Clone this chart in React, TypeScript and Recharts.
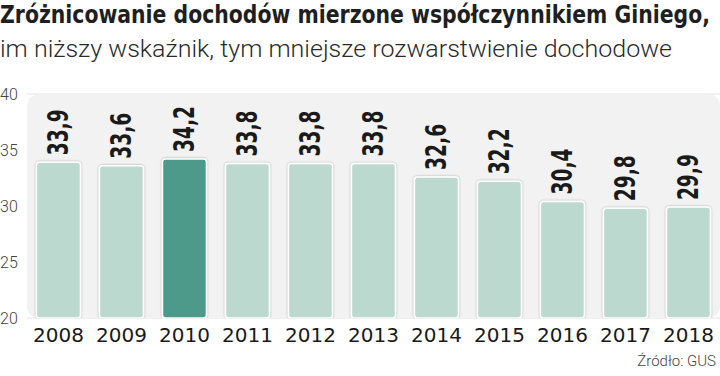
import React from 'react'
import { BarChart, Bar, XAxis, YAxis, CartesianGrid, Rectangle, ReferenceArea } from 'recharts'

const years = ['2008', '2009', '2010', '2011', '2012', '2013', '2014', '2015', '2016', '2017', '2018']
const gini = [33.9, 33.6, 34.2, 33.8, 33.8, 33.8, 32.6, 32.2, 30.4, 29.8, 29.9]
const highlightYear = '2010'
const yTicks = [20, 25, 30, 35, 40]

const title = 'Zróżnicowanie dochodów mierzone współczynnikiem Giniego,'
const subtitle = 'im niższy wskaźnik, tym mniejsze rozwarstwienie dochodowe'
const source = 'Źródło: GUS'

const data = years.map((year, i) => ({ year, value: gini[i] }))

const LIGHT = '#bcd9d0'
const DARK = '#4e9a8b'
const CONDENSED = "'DejaVu Sans Condensed', 'DejaVu Sans', sans-serif"

// bar + rotated value label above it
const BarWithLabel = (props: any) => {
  const { x, y, width, height, payload } = props
  const cx = x + width / 2
  const ty = y - 7
  const fill = payload.year === highlightYear ? DARK : LIGHT
  return (
    <g>
      <Rectangle
        x={x}
        y={y}
        width={width}
        height={height}
        radius={3}
        fill={fill}
        stroke="#ffffff"
        strokeWidth={1.5}
        style={{ filter: 'url(#barShadow)' }}
      />
      <g transform={`translate(${cx}, ${ty}) rotate(-90) scale(0.74, 1)`}>
        <text
          x={0}
          y={0}
          textAnchor="start"
          dominantBaseline="central"
          fontFamily={CONDENSED}
          fontWeight="bold"
          fontSize={28}
          fill="#1a1a1a"
        >
          {String(payload.value).replace('.', ',')}
        </text>
      </g>
    </g>
  )
}

const YTick = (props: any) => {
  const { y, payload } = props
  return (
    <text x={0} y={y} dominantBaseline="central" fontFamily="Roboto" fontWeight={300} fontSize={16} fill="#444">
      {payload.value}
    </text>
  )
}

const PlotBg = (props: any) => {
  const { x, y, width, height } = props
  return <rect x={x} y={y} width={width} height={height} rx={12} ry={12} fill="#f2f2f2" />
}

const App = () => {
  return (
    <div style={{ position: 'absolute', left: 0, top: 0, width: 720, height: 376, background: '#fff' }}>
      <svg width={720} height={70} style={{ position: 'absolute', left: 0, top: 0 }}>
        <text
          x={0}
          y={23}
          fontFamily={CONDENSED}
          fontWeight="bold"
          fontSize={24}
          fill="#1f1f1f"
          textLength={710}
          lengthAdjust="spacingAndGlyphs"
        >
          {title}
        </text>
        <text
          x={0}
          y={57}
          fontFamily="Roboto"
          fontWeight={300}
          fontSize={24}
          fill="#2a2a2a"
          textLength={672}
          lengthAdjust="spacingAndGlyphs"
        >
          {subtitle}
        </text>
      </svg>
      <div
        style={{
          position: 'absolute', right: 4, top: 352, fontFamily: 'Roboto', fontWeight: 300,
          fontSize: 15, color: '#444', whiteSpace: 'nowrap'
        }}
      >
        {source}
      </div>
      <div style={{ position: 'absolute', left: 0, top: 0 }}>
        <BarChart
          width={720}
          height={376}
          data={data}
          margin={{ top: 94, right: 0, left: 0, bottom: 0 }}
          barCategoryGap="15%"
        >
          <defs>
            <filter id="barShadow" x="-20%" y="-20%" width="140%" height="140%">
              <feDropShadow dx="0" dy="0" stdDeviation="1.2" floodColor="#000" floodOpacity="0.35" />
            </filter>
          </defs>
          <ReferenceArea y1={20} y2={40} shape={PlotBg} ifOverflow="visible" />
          <CartesianGrid vertical={false} stroke="#e2e2e2" strokeWidth={1} />
          <YAxis
            type="number"
            domain={[20, 40]}
            ticks={yTicks}
            width={27}
            axisLine={false}
            tickLine={false}
            tick={<YTick />}
            allowDataOverflow
          />
          <XAxis
            dataKey="year"
            axisLine={false}
            tickLine={false}
            height={58}
            tickMargin={4}
            tick={{ fontFamily: 'DejaVu Sans', fontSize: 20, fill: '#1a1a1a' }}
            interval={0}
          />
          <Bar dataKey="value" isAnimationActive={false} shape={BarWithLabel} />
        </BarChart>
      </div>
    </div>
  )
}

export default App
